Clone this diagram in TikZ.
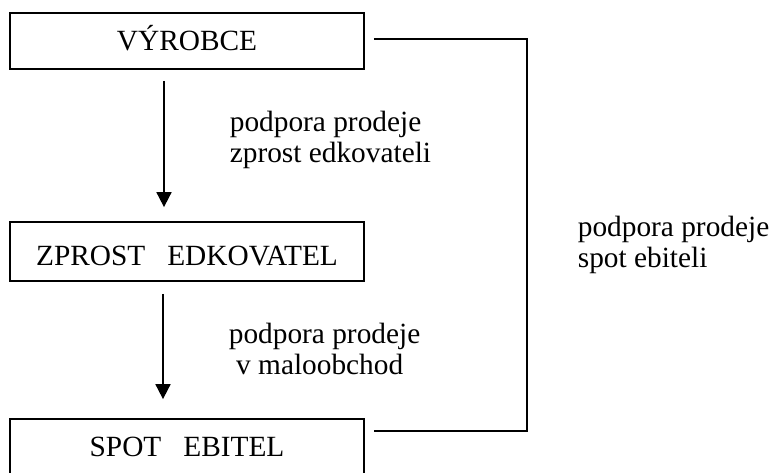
\documentclass[tikz,border=0pt]{standalone}
\usepackage{fontspec}
\setmainfont{Liberation Serif}
\usetikzlibrary{arrows.meta,calc}

\tikzset{every picture/.style={line width=1.3pt}}
\tikzset{
  stage/.style={draw, minimum width=265.5pt, minimum height=42pt, inner sep=0pt,
    text height=14.5pt, text depth=0pt, font=\fontsize{22}{23.25}\selectfont},
  note/.style={anchor=base west, align=left, inner sep=0pt,
    font=\fontsize{22}{23.25}\selectfont},
  arr/.style={-{Triangle[width=11.25pt,length=11.25pt]}}
}

\begin{document}
\begin{tikzpicture}[x=0.75pt,y=0.75pt,yscale=-1,xscale=1]
\useasboundingbox (0,0) rectangle (769,473);

%Shape: Rectangle [id:vyrobce]
\node [stage] (vyrobce) at (187,41) {VÝROBCE};
%Shape: Rectangle [id:zprost]
\node [stage, minimum height=44.25pt, text height=20.7pt] (zprost) at (187,251.5) {ZPROST\ \ \ EDKOVATEL};
%Shape: Rectangle [id:spot]
\node [stage] (spot) at (187,447) {SPOT\ \ \ EBITEL};

%Straight Lines [id:a1]
\draw [arr] ($(vyrobce.south)+(-23,11)$) -- ($(zprost.north)+(-23,-14)$);
%Straight Lines [id:a2]
\draw [arr] ($(zprost.south)+(-24,12)$) -- ($(spot.north)+(-24,-19)$);
%Straight Lines [id:bypass]
\draw ($(vyrobce.east)+(9,-2)$) -- ++(153,0) |- ($(spot.north east)+(9,13)$);

% Text Node
\node [note] (n1) at (229,163) {podpora prodeje\\zprost edkovateli};
% Text Node
\node [note] (n2) at (228,375) {podpora prodeje\\\hspace*{0.25em}v maloobchod};
% Text Node
\node [note] (n3) at (577,268) {podpora prodeje\\spot ebiteli};

\end{tikzpicture}
\end{document}
